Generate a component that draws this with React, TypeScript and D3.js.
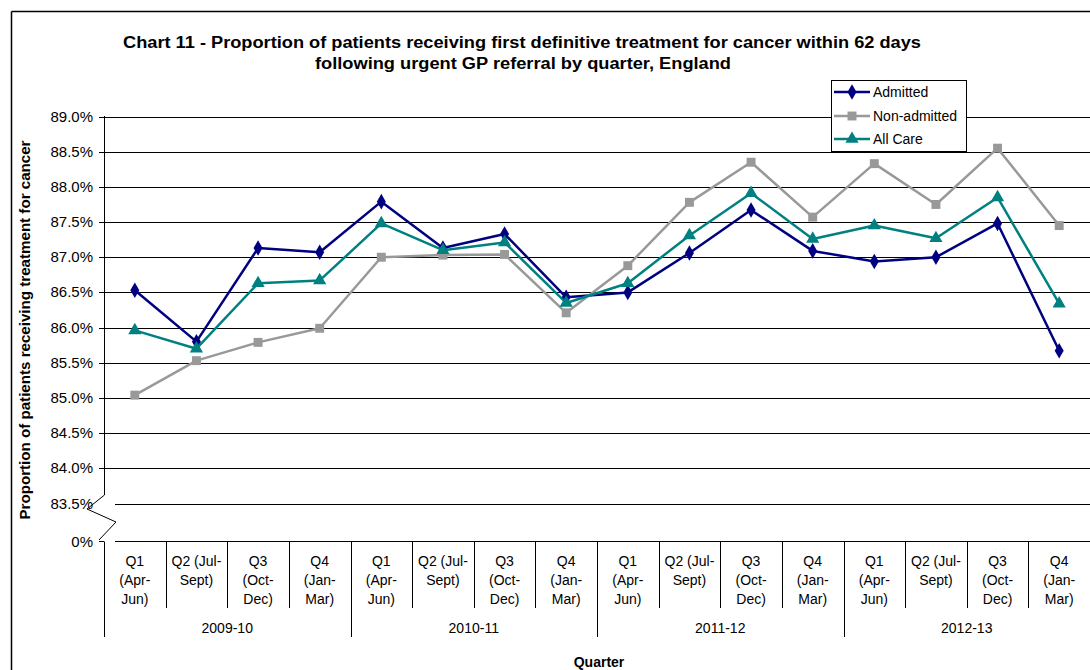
import React from "react";
import * as d3 from "d3";

const quarters = [
  ["Q1", "(Apr-", "Jun)"],
  ["Q2 (Jul-", "Sept)"],
  ["Q3", "(Oct-", "Dec)"],
  ["Q4", "(Jan-", "Mar)"],
];
const years = ["2009-10", "2010-11", "2011-12", "2012-13"];
const admitted = [86.53, 85.8, 87.13, 87.07, 87.79, 87.13, 87.33, 86.43, 86.5, 87.06, 87.67, 87.09, 86.94, 87.0, 87.48, 85.67];
const nonAdmitted = [85.04, 85.53, 85.79, 85.99, 87.0, 87.03, 87.04, 86.21, 86.88, 87.78, 88.35, 87.57, 88.33, 87.75, 88.55, 87.45];
const allCare = [85.96, 85.7, 86.63, 86.67, 87.48, 87.1, 87.21, 86.35, 86.63, 87.31, 87.91, 87.26, 87.45, 87.27, 87.85, 86.34];
const yTicks = [83.5, 84.0, 84.5, 85.0, 85.5, 86.0, 86.5, 87.0, 87.5, 88.0, 88.5, 89.0];

const FONT = "'Liberation Sans', Arial, sans-serif";

export default function App() {
  const left = 104, right = 1090;
  const n = years.length * quarters.length;
  const x = d3.scaleBand<number>().domain(d3.range(n)).range([left, right]).padding(0);
  const cx = (i: number) => (x(i) as number) + x.bandwidth() / 2;
  const y = d3.scaleLinear().domain([83.5, 89]).range([503.5, 116.5]);
  const zeroY = 541.5;
  const line = (vals: number[]) =>
    d3.line<number>().x((_, i) => cx(i)).y((v) => y(v))(vals) as string;

  const series = [
    { name: "Admitted", vals: admitted, color: "#000080", marker: "diamond" },
    { name: "Non-admitted", vals: nonAdmitted, color: "#999999", marker: "square" },
    { name: "All Care", vals: allCare, color: "#008080", marker: "triangle" },
  ];
  const sym = (m: string) => {
    if (m === "diamond") return d3.symbol(d3.symbolDiamond, 70)();
    if (m === "square") return d3.symbol(d3.symbolSquare, 80)();
    return d3.symbol(d3.symbolTriangle, 75)();
  };

  return (
    <svg width={1090} height={670} style={{ position: "absolute", left: 0, top: 0, background: "#fff" }} fontFamily={FONT}>
      <rect x={0} y={0} width={1090} height={670} fill="#fff" />
      {/* frame */}
      <line x1={11.5} y1={11.5} x2={1090} y2={11.5} stroke="#000" strokeWidth={1.5} />
      <line x1={11.5} y1={11.5} x2={11.5} y2={670} stroke="#000" strokeWidth={1.5} />

      {/* title */}
      <text x={522} y={48} textAnchor="middle" fontWeight="bold" fontSize={16} textLength={798} lengthAdjust="spacingAndGlyphs">
        Chart 11 - Proportion of patients receiving first definitive treatment for cancer within 62 days
      </text>
      <text x={523} y={69} textAnchor="middle" fontWeight="bold" fontSize={16} textLength={416} lengthAdjust="spacingAndGlyphs">
        following urgent GP referral by quarter, England
      </text>

      {/* gridlines */}
      {yTicks.map((t) => (
        <line key={t} x1={t === 83.5 ? 115 : left} x2={right} y1={Math.round(y(t)) + 0.5} y2={Math.round(y(t)) + 0.5} stroke="#000" strokeWidth={1} />
      ))}
      {/* y ticks and labels */}
      {yTicks.map((t) => (
        <g key={"t" + t}>
          {t !== 83.5 && <line x1={99} x2={left} y1={Math.round(y(t)) + 0.5} y2={Math.round(y(t)) + 0.5} stroke="#000" />}
          <text x={93} y={y(t) + 5} textAnchor="end" fontSize={15} fill="#000">
            {t.toFixed(1)}%
          </text>
        </g>
      ))}
      <line x1={99} x2={left} y1={zeroY} y2={zeroY} stroke="#000" />
      <text x={93} y={zeroY + 5} textAnchor="end" fontSize={15}>0%</text>

      {/* y axis with break */}
      <line x1={left + 0.5} x2={left + 0.5} y1={116} y2={495} stroke="#000" />
      <polyline points={`${left + 0.5},495 87,509 116,522 99,540`} fill="none" stroke="#000" strokeWidth={1} />

      {/* x axis */}
      <line x1={115} x2={right} y1={zeroY} y2={zeroY} stroke="#000" />
      {d3.range(n + 1).map((k) => {
        const xx = Math.round(left + k * x.bandwidth()) + 0.5;
        return <line key={"d" + k} x1={xx} x2={xx} y1={zeroY} y2={k % 4 === 0 ? 637 : 608} stroke="#000" />;
      })}
      {d3.range(n).map((i) => {
        const lines = quarters[i % 4];
        return (
          <text key={"q" + i} x={cx(i)} textAnchor="middle" fontSize={14}>
            {lines.map((s, j) => (
              <tspan key={j} x={cx(i)} y={566 + j * 19}>{s}</tspan>
            ))}
          </text>
        );
      })}
      {years.map((yr, k) => (
        <text key={yr} x={(cx(k * 4) + cx(k * 4 + 3)) / 2} y={633} textAnchor="middle" fontSize={14}>
          {yr}
        </text>
      ))}
      <text x={599} y={667} textAnchor="middle" fontWeight="bold" fontSize={14}>Quarter</text>
      <text transform="translate(30,330) rotate(-90)" textAnchor="middle" fontWeight="bold" fontSize={14} textLength={379} lengthAdjust="spacingAndGlyphs">
        Proportion of patients receiving treatment for cancer
      </text>

      {/* series */}
      {series.map((s) => (
        <g key={s.name}>
          <path d={line(s.vals)} fill="none" stroke={s.color} strokeWidth={2.5} strokeLinejoin="round" />
          {s.vals.map((v, i) => (
            <path key={i} d={sym(s.marker) as string} transform={`translate(${cx(i)},${y(v)})`} fill={s.color} />
          ))}
        </g>
      ))}

      {/* legend */}
      <rect x={831.5} y={80.5} width={135} height={71} fill="#fff" stroke="#000" strokeWidth={1} />
      {series.map((s, k) => {
        const ly = [92, 116, 139][k];
        return (
          <g key={"l" + s.name}>
            <line x1={834} x2={870} y1={ly} y2={ly} stroke={s.color} strokeWidth={2.5} />
            <path d={sym(s.marker) as string} transform={`translate(852,${ly})`} fill={s.color} />
            <text x={873} y={ly + 5} fontSize={14}>{s.name}</text>
          </g>
        );
      })}
    </svg>
  );
}
